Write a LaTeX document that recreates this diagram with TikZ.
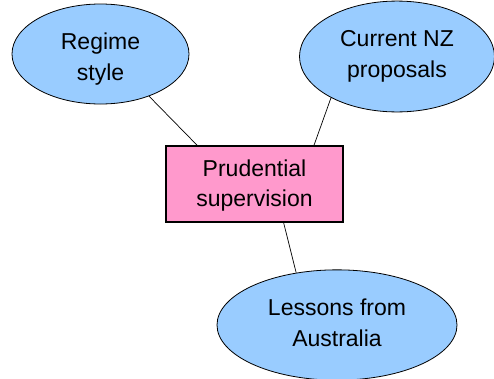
\documentclass[tikz,border=0pt]{standalone}
\usepackage{fontspec}
\setmainfont{Liberation Sans}
\usetikzlibrary{shapes.geometric}
\definecolor{bubble}{HTML}{99CCFF}
\definecolor{boxpink}{HTML}{FF99CC}
\begin{document}
\begin{tikzpicture}[x=1pt,y=-1pt,
  topic/.style={ellipse, draw=black, line width=0.8pt, fill=bubble, inner sep=0pt, align=center,
    font=\fontsize{23}{31}\selectfont, text height=60pt},
  centerbox/.style={rectangle, draw=black, line width=1.2pt, fill=boxpink, inner sep=0pt, align=center,
    minimum width=177pt, minimum height=76pt, font=\fontsize{23}{30}\selectfont, text height=60pt},
  link/.style={draw=black, line width=0.7pt}]
\useasboundingbox (0,0) rectangle (494,378);
\node[topic, minimum width=177pt, minimum height=100pt, text depth=8pt] (regime) at (100.5,54) {Regime\\style};
\node[topic, minimum width=195pt, minimum height=107pt, text depth=18.4pt] (nz) at (397,56.5) {Current NZ\\proposals};
\node[topic, minimum width=240pt, minimum height=104pt, text depth=18pt] (aus) at (337,325) {Lessons from\\Australia};
\node[centerbox, text depth=16pt] (pru) at (254.5,184) {Prudential\\supervision};
\draw[link] (regime.-41) -- (pru.146);
\draw[link] (nz.212) -- (pru.33.5);
\draw[link] (pru.-53) -- (aus.128.5);
\end{tikzpicture}
\end{document}
